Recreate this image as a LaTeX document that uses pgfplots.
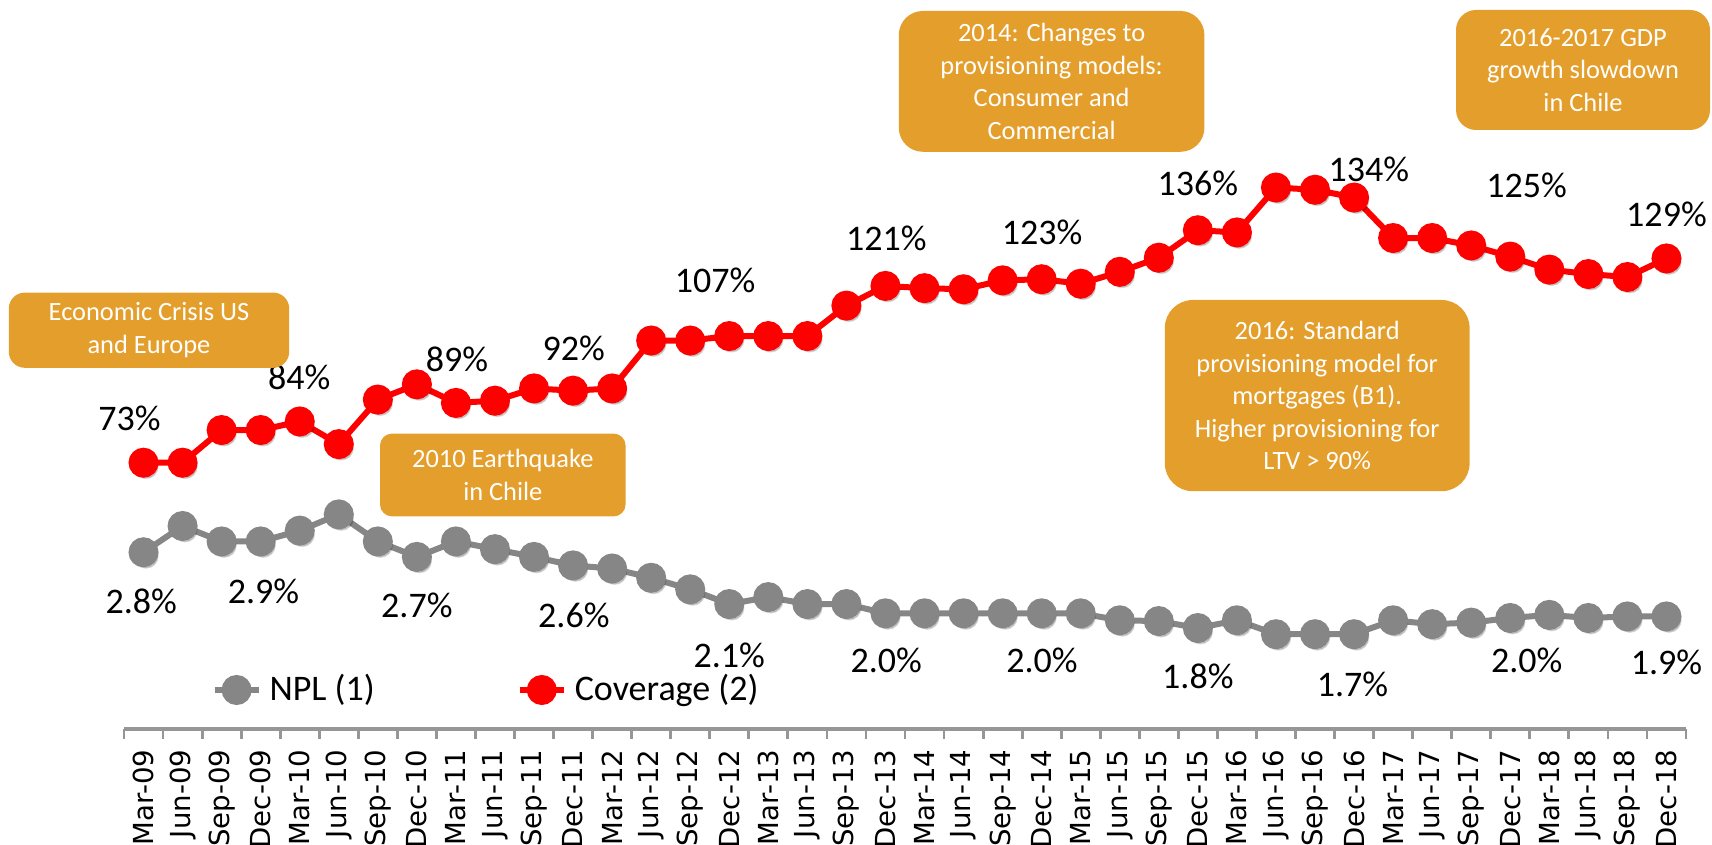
\documentclass[border=0pt]{standalone}
\usepackage{fontspec}
\setmainfont{Carlito}
\newfontfamily\tickfont{DejaVu Sans}
\usepackage{pgfplots}
\pgfplotsset{compat=1.18}
\definecolor{boxor}{RGB}{228,158,43}
\definecolor{nplc}{RGB}{134,134,134}
\definecolor{axgray}{RGB}{150,150,150}
\newcommand{\lbl}{\fontsize{9}{10.8}\selectfont}
\newcommand{\boxf}{\fontsize{6.6}{8.1}\selectfont}
\pgfplotsset{
  base/.style={scale only axis, width=390.5pt, height=182.25pt,
    at={(31pt,29pt)}, anchor=south west, xmin=-0.5, xmax=39.5, clip=false},
  legend image code/.code={\draw[mark repeat=2,mark phase=2,#1] plot coordinates {(0pt,0pt) (5.5pt,0pt) (11pt,0pt)};}
}
\tikzset{evbox/.style={fill=boxor, draw=none, text=white, align=center, font=\boxf, inner sep=0pt}}
\begin{document}
\begin{tikzpicture}
\useasboundingbox (0,0) rectangle (428pt,211.25pt);
% NPL axis (with visible x axis)
\begin{axis}[base, ymin=0.474, ymax=9.905,
  axis x line*=bottom, axis y line=none,
  x axis line style={axgray, line width=0.8pt},
  xtick={0,...,39}, major tick length=0pt,
  minor xtick={-0.5,0.5,...,39.5}, minor tick length=2.4pt, tick align=outside,
  minor tick style={axgray, line width=0.7pt},
  xticklabels={Mar-09,Jun-09,Sep-09,Dec-09,Mar-10,Jun-10,Sep-10,Dec-10,Mar-11,Jun-11,Sep-11,Dec-11,Mar-12,Jun-12,Sep-12,Dec-12,Mar-13,Jun-13,Sep-13,Dec-13,Mar-14,Jun-14,Sep-14,Dec-14,Mar-15,Jun-15,Sep-15,Dec-15,Mar-16,Jun-16,Sep-16,Dec-16,Mar-17,Jun-17,Sep-17,Dec-17,Mar-18,Jun-18,Sep-18,Dec-18},
  xticklabel style={font=\tickfont\fontsize{6.9}{7}\selectfont, yshift=-5pt, rotate=90, anchor=east, inner sep=0pt},
  legend columns=2,
  legend style={at={(0.2337,0.0535)}, anchor=center, draw=none, fill=none, font=\lbl, inner sep=0pt,
    /tikz/every even column/.append style={column sep=33.5pt}, cells={anchor=west}},
]
\addplot[only marks, forget plot, mark=*, mark size=3pt, mark options={fill=black, draw=none, opacity=0.15, xshift=0.6pt, yshift=-0.9pt}] coordinates {
(0,2.76)(1,3.10)(2,2.90)(3,2.90)(4,3.04)(5,3.25)(6,2.90)(7,2.70)(8,2.90)(9,2.80)(10,2.70)(11,2.59)(12,2.55)(13,2.43)(14,2.28)(15,2.09)(16,2.18)(17,2.09)(18,2.09)(19,1.97)(20,1.97)(21,1.97)(22,1.97)(23,1.97)(24,1.97)(25,1.88)(26,1.87)(27,1.78)(28,1.88)(29,1.70)(30,1.70)(31,1.70)(32,1.88)(33,1.83)(34,1.85)(35,1.91)(36,1.95)(37,1.91)(38,1.93)(39,1.93)};
\addplot[nplc, line width=1.5pt, mark=*, mark size=3pt, mark options={solid, fill=nplc, draw=none}] coordinates {
(0,2.76)(1,3.10)(2,2.90)(3,2.90)(4,3.04)(5,3.25)(6,2.90)(7,2.70)(8,2.90)(9,2.80)(10,2.70)(11,2.59)(12,2.55)(13,2.43)(14,2.28)(15,2.09)(16,2.18)(17,2.09)(18,2.09)(19,1.97)(20,1.97)(21,1.97)(22,1.97)(23,1.97)(24,1.97)(25,1.88)(26,1.87)(27,1.78)(28,1.88)(29,1.70)(30,1.70)(31,1.70)(32,1.88)(33,1.83)(34,1.85)(35,1.91)(36,1.95)(37,1.91)(38,1.93)(39,1.93)};
\addlegendentry{NPL (1)}
\addlegendimage{red, line width=1.5pt, mark=*, mark size=3pt, mark options={solid, fill=red, draw=none}}
\addlegendentry{Coverage (2)}
\node[font=\lbl] at (axis cs:-0.06,2.12) {2.8\%};
\node[font=\lbl] at (axis cs:3.07,2.26) {2.9\%};
\node[font=\lbl] at (axis cs:7.0,2.07) {2.7\%};
\node[font=\lbl] at (axis cs:11.02,1.95) {2.6\%};
\node[font=\lbl] at (axis cs:15.0,1.43) {2.1\%};
\node[font=\lbl] at (axis cs:19.02,1.36) {2.0\%};
\node[font=\lbl] at (axis cs:23.01,1.36) {2.0\%};
\node[font=\lbl] at (axis cs:27.0,1.15) {1.8\%};
\node[font=\lbl] at (axis cs:30.96,1.05) {1.7\%};
\node[font=\lbl] at (axis cs:35.42,1.36) {2.0\%};
\node[font=\lbl] at (axis cs:39.0,1.33) {1.9\%};
\end{axis}
% Coverage axis
\begin{axis}[base, ymin=1.7, ymax=198.0, axis lines=none]
\addplot[only marks, mark=*, mark size=3pt, mark options={fill=black, draw=none, opacity=0.15, xshift=0.6pt, yshift=-0.9pt}] coordinates {
(0,73.4)(1,73.4)(2,82.2)(3,82.2)(4,84.5)(5,78.4)(6,90.4)(7,94.5)(8,89.5)(9,90.1)(10,93.4)(11,92.8)(12,93.4)(13,106.3)(14,106.3)(15,107.5)(16,107.5)(17,107.5)(18,115.7)(19,121.0)(20,120.4)(21,120.1)(22,122.5)(23,122.8)(24,121.6)(25,124.8)(26,128.6)(27,136.0)(28,135.4)(29,147.5)(30,146.9)(31,144.8)(32,133.9)(33,133.9)(34,131.9)(35,128.9)(36,125.4)(37,124.2)(38,123.4)(39,128.4)};
\addplot[red, line width=1.5pt, mark=*, mark size=3pt, mark options={solid, fill=red, draw=none}] coordinates {
(0,73.4)(1,73.4)(2,82.2)(3,82.2)(4,84.5)(5,78.4)(6,90.4)(7,94.5)(8,89.5)(9,90.1)(10,93.4)(11,92.8)(12,93.4)(13,106.3)(14,106.3)(15,107.5)(16,107.5)(17,107.5)(18,115.7)(19,121.0)(20,120.4)(21,120.1)(22,122.5)(23,122.8)(24,121.6)(25,124.8)(26,128.6)(27,136.0)(28,135.4)(29,147.5)(30,146.9)(31,144.8)(32,133.9)(33,133.9)(34,131.9)(35,128.9)(36,125.4)(37,124.2)(38,123.4)(39,128.4)};
\node[font=\lbl] at (axis cs:-0.36,85.4) {73\%};
\node[font=\lbl] at (axis cs:3.99,96.3) {84\%};
\node[font=\lbl] at (axis cs:8.03,101.3) {89\%};
\node[font=\lbl] at (axis cs:11.02,104.2) {92\%};
\node[font=\lbl] at (axis cs:14.64,122.5) {107\%};
\node[font=\lbl] at (axis cs:19.02,133.9) {121\%};
\node[font=\lbl] at (axis cs:23.01,135.4) {123\%};
\node[font=\lbl] at (axis cs:27.0,148.6) {136\%};
\node[font=\lbl] at (axis cs:31.38,152.5) {134\%};
\node[font=\lbl] at (axis cs:35.42,148.1) {125\%};
\node[font=\lbl] at (axis cs:39.0,140.4) {129\%};
\end{axis}
% annotation boxes
\node[evbox, minimum width=70.1pt, minimum height=18.8pt, rounded corners=4pt] at (37.25pt,128.7pt) {Economic Crisis US\\and Europe};
\node[evbox, minimum width=61.4pt, minimum height=20.7pt, rounded corners=3pt] at (125.7pt,92.5pt) {2010 Earthquake\\in Chile};
\node[evbox, minimum width=76.4pt, minimum height=35.2pt, rounded corners=6pt] at (262.9pt,190.9pt) {2014: Changes to\\provisioning models:\\Consumer and\\Commercial};
\node[evbox, minimum width=63.5pt, minimum height=30pt, rounded corners=5pt] at (395.75pt,193.75pt) {2016-2017 GDP\\growth slowdown\\in Chile};
\node[evbox, minimum width=76.2pt, minimum height=47.8pt, rounded corners=7pt] at (329.3pt,112.35pt) {2016: Standard\\provisioning model for\\mortgages (B1).\\Higher provisioning for\\LTV > 90\%};
\end{tikzpicture}
\end{document}
